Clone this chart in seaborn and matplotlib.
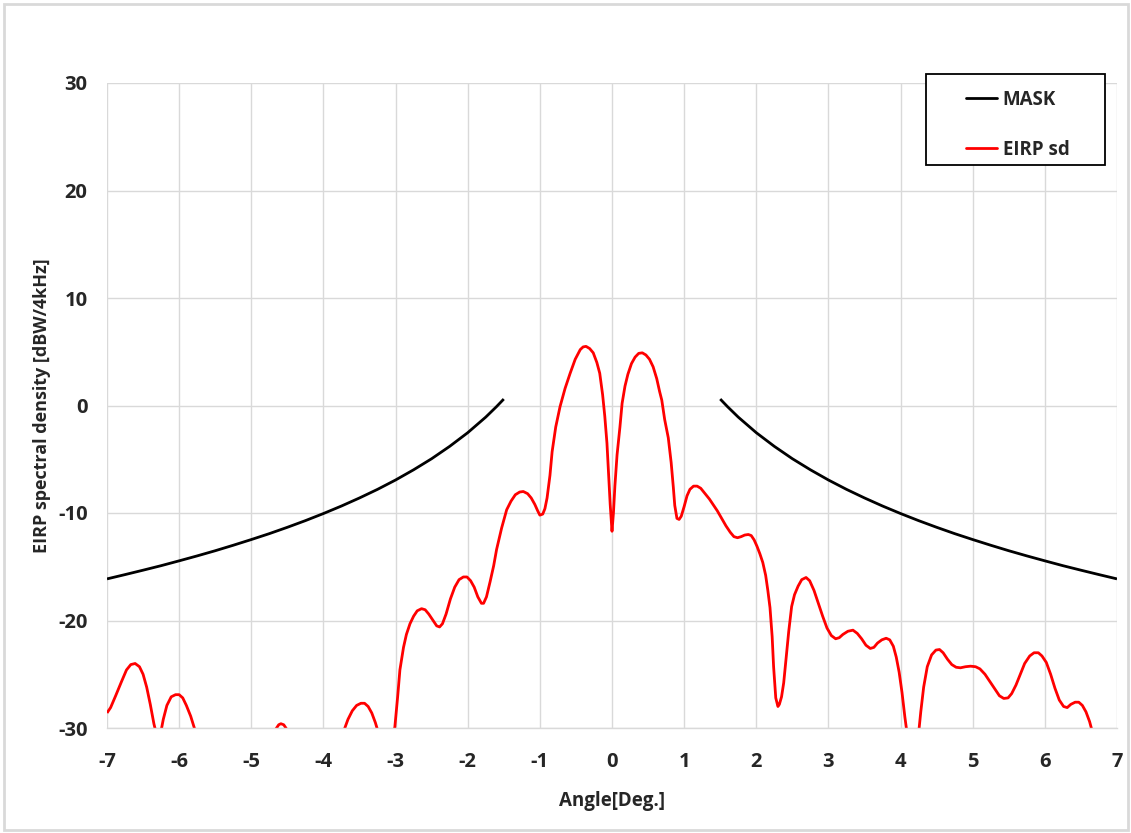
import matplotlib
matplotlib.use("Agg")
import matplotlib.pyplot as plt
import seaborn as sns
import pandas as pd
from matplotlib.lines import Line2D
from matplotlib.patches import Rectangle

# ---- data ----
mask_abs_angle = [1.5, 1.6, 1.75, 2.0, 2.25, 2.5, 2.75, 3.0, 3.25, 3.5, 3.75, 4.0, 4.25,
                  4.5, 4.75, 5.0, 5.25, 5.5, 5.75, 6.0, 6.25, 6.5, 6.75, 7.0]
mask_value = [0.60, -0.10, -1.08, -2.53, -3.80, -4.95, -5.98, -6.93, -7.80, -8.60, -9.35,
              -10.05, -10.71, -11.33, -11.92, -12.47, -13.00, -13.51, -13.99, -14.45,
              -14.90, -15.32, -15.73, -16.13]

eirp_points = [
    (-7.00, -28.6), (-6.95, -28.1), (-6.88, -27.0), (-6.80, -25.7), (-6.73, -24.6),
    (-6.67, -24.1), (-6.61, -24.0), (-6.55, -24.3), (-6.50, -25.0), (-6.45, -26.2),
    (-6.40, -27.8), (-6.35, -29.6), (-6.30, -31.0), (-6.26, -30.6), (-6.22, -29.2),
    (-6.17, -27.9), (-6.11, -27.1), (-6.05, -26.9), (-6.00, -26.9), (-5.95, -27.2),
    (-5.90, -27.9), (-5.84, -28.9), (-5.78, -30.2), (-5.70, -32.0), (-5.30, -35.0),
    (-4.90, -33.0), (-4.70, -30.6), (-4.66, -30.1), (-4.62, -29.7), (-4.59, -29.6),
    (-4.55, -29.7), (-4.51, -30.1), (-4.46, -30.7), (-4.20, -34.0), (-3.90, -32.0),
    (-3.72, -30.3), (-3.66, -29.2), (-3.60, -28.4), (-3.54, -27.9), (-3.48, -27.7),
    (-3.43, -27.7), (-3.38, -28.0), (-3.33, -28.6), (-3.28, -29.5), (-3.24, -30.4),
    (-3.15, -32.5), (-3.08, -32.0), (-3.04, -30.8), (-3.01, -29.9), (-2.97, -27.0),
    (-2.94, -24.6), (-2.89, -22.5), (-2.85, -21.3), (-2.80, -20.3), (-2.75, -19.6),
    (-2.70, -19.1), (-2.64, -18.9), (-2.59, -19.0), (-2.54, -19.4), (-2.48, -20.0),
    (-2.43, -20.5), (-2.39, -20.6), (-2.35, -20.3), (-2.30, -19.4), (-2.24, -18.0),
    (-2.18, -16.9), (-2.12, -16.2), (-2.06, -15.95), (-2.01, -15.95), (-1.96, -16.3),
    (-1.91, -16.9), (-1.86, -17.8), (-1.81, -18.4), (-1.78, -18.4), (-1.74, -17.8),
    (-1.69, -16.4), (-1.64, -14.9), (-1.60, -13.4), (-1.53, -11.4), (-1.46, -9.7),
    (-1.40, -8.9), (-1.34, -8.3), (-1.28, -8.05), (-1.23, -8.0), (-1.17, -8.2),
    (-1.12, -8.6), (-1.07, -9.2), (-1.03, -9.8), (-1.00, -10.2), (-0.96, -10.1),
    (-0.93, -9.6), (-0.90, -8.6), (-0.86, -6.5), (-0.83, -4.3), (-0.78, -2.0),
    (-0.72, -0.1), (-0.65, 1.6), (-0.58, 3.0), (-0.51, 4.3), (-0.44, 5.2),
    (-0.40, 5.45), (-0.36, 5.5), (-0.31, 5.3), (-0.26, 4.9), (-0.21, 4.0),
    (-0.17, 3.0), (-0.13, 1.0), (-0.10, -1.0), (-0.07, -3.5), (-0.05, -6.0),
    (-0.025, -9.2), (0.00, -11.7), (0.02, -10.0), (0.04, -7.5), (0.07, -4.6),
    (0.11, -2.0), (0.14, 0.2), (0.18, 1.8), (0.22, 2.9), (0.27, 3.9),
    (0.32, 4.5), (0.37, 4.85), (0.42, 4.9), (0.47, 4.7), (0.52, 4.3),
    (0.57, 3.6), (0.62, 2.5), (0.66, 1.3), (0.69, 0.5), (0.73, -1.3),
    (0.78, -3.0), (0.82, -5.3), (0.85, -7.6), (0.87, -9.3), (0.90, -10.5),
    (0.93, -10.6), (0.96, -10.3), (1.00, -9.4), (1.04, -8.4), (1.08, -7.8),
    (1.13, -7.5), (1.18, -7.5), (1.23, -7.7), (1.29, -8.2), (1.35, -8.7),
    (1.40, -9.2), (1.46, -9.8), (1.52, -10.5), (1.58, -11.2), (1.64, -11.8),
    (1.69, -12.2), (1.74, -12.3), (1.79, -12.2), (1.84, -12.05), (1.89, -12.0),
    (1.93, -12.1), (1.97, -12.5), (2.01, -13.1), (2.05, -13.8), (2.09, -14.6),
    (2.13, -15.8), (2.16, -17.2), (2.19, -18.8), (2.22, -21.5), (2.24, -24.3),
    (2.27, -27.2), (2.30, -28.0), (2.32, -27.8), (2.35, -27.1), (2.38, -25.8),
    (2.42, -23.0), (2.45, -21.0), (2.49, -18.7), (2.53, -17.6), (2.58, -16.8),
    (2.63, -16.2), (2.69, -16.0), (2.74, -16.3), (2.80, -17.2), (2.86, -18.4),
    (2.92, -19.6), (2.98, -20.7), (3.04, -21.4), (3.10, -21.7), (3.15, -21.6),
    (3.20, -21.3), (3.27, -21.0), (3.34, -20.9), (3.40, -21.2), (3.46, -21.7),
    (3.52, -22.3), (3.58, -22.6), (3.63, -22.5), (3.68, -22.1), (3.74, -21.8),
    (3.80, -21.65), (3.85, -21.8), (3.90, -22.4), (3.94, -23.4), (3.98, -24.8),
    (4.02, -26.7), (4.06, -29.0), (4.09, -30.5), (4.14, -33.0), (4.20, -32.5),
    (4.25, -30.5), (4.28, -28.5), (4.32, -26.2), (4.37, -24.3), (4.43, -23.2),
    (4.49, -22.75), (4.54, -22.7), (4.59, -23.0), (4.65, -23.6), (4.71, -24.1),
    (4.77, -24.35), (4.83, -24.4), (4.90, -24.3), (4.97, -24.25), (5.04, -24.3),
    (5.10, -24.5), (5.17, -25.0), (5.24, -25.7), (5.31, -26.4), (5.37, -27.0),
    (5.43, -27.25), (5.49, -27.2), (5.54, -26.8), (5.60, -26.0), (5.66, -25.0),
    (5.72, -24.0), (5.79, -23.3), (5.85, -23.0), (5.91, -23.0), (5.96, -23.3),
    (6.02, -23.9), (6.08, -25.0), (6.14, -26.3), (6.20, -27.4), (6.26, -28.0),
    (6.31, -28.1), (6.36, -27.8), (6.42, -27.6), (6.47, -27.6), (6.52, -27.9),
    (6.57, -28.5), (6.62, -29.4), (6.66, -30.4), (6.75, -33.0), (7.00, -35.0),
]
eirp_angle = [p[0] for p in eirp_points]
eirp_value = [p[1] for p in eirp_points]

x_ticks = [-7, -6, -5, -4, -3, -2, -1, 0, 1, 2, 3, 4, 5, 6, 7]
y_ticks = [-30, -20, -10, 0, 10, 20, 30]
legend_labels = ["MASK", "EIRP sd"]

# ---- build frames ----
mask_left = pd.DataFrame({"angle": [-a for a in mask_abs_angle], "value": mask_value})
mask_right = pd.DataFrame({"angle": mask_abs_angle, "value": mask_value})
eirp = pd.DataFrame({"angle": eirp_angle, "value": eirp_value})

sns.set_theme(style="white")
FONT = ["Open Sans", "DejaVu Sans"]
plt.rcParams["font.family"] = FONT

W, H = 1131, 833
fig = plt.figure(figsize=(W / 100, H / 100), dpi=100)
ax = fig.add_axes([107 / W, 1 - 728 / H, (1117 - 107) / W, (728 - 83) / H])

line_kw = dict(lw=2, sort=False, estimator=None, solid_joinstyle="round",
               solid_capstyle="butt")
sns.lineplot(data=mask_left, x="angle", y="value", ax=ax, color="black", **line_kw)
sns.lineplot(data=mask_right, x="angle", y="value", ax=ax, color="black", **line_kw)
sns.lineplot(data=eirp, x="angle", y="value", ax=ax, color="#ff0000", **line_kw)

ax.set_xlim(-7, 7)
ax.set_ylim(-30, 30)
ax.set_xticks(x_ticks)
ax.set_yticks(y_ticks)
ax.set_xticklabels([str(t) for t in x_ticks], fontsize=14.5, fontweight="bold")
ax.set_yticklabels([str(t) for t in y_ticks], fontsize=14.5, fontweight="bold")
ax.tick_params(axis="x", length=0, pad=17)
ax.tick_params(axis="y", length=0, pad=14)
ax.grid(True, color="#d9d9d9", lw=1)
ax.set_axisbelow(True)
for s in ["top", "right", "left"]:
    ax.spines[s].set_visible(False)
ax.spines["bottom"].set_color("#d9d9d9")
ax.spines["bottom"].set_linewidth(1)

ax.set_xlabel("Angle[Deg.]", fontsize=13.5, fontweight="bold", labelpad=14)
ax.set_ylabel("EIRP spectral density [dBW/4kHz]", fontsize=13, fontweight="bold",
              labelpad=5)

handles = [Line2D([], [], color="black", lw=2), Line2D([], [], color="#ff0000", lw=2)]
leg = fig.legend(handles, legend_labels, loc="upper left",
                 bbox_to_anchor=(966 / W, 1 - 90 / H),
                 frameon=False,
                 prop={"family": FONT, "weight": "bold", "size": 13.5},
                 handlelength=1.65, handletextpad=0.3, labelspacing=1.6,
                 borderpad=0, borderaxespad=0)

# legend frame (matches the wide box of the reference)
fig.patches.append(Rectangle((926 / W, 1 - 165 / H), (1105 - 926) / W, (165 - 74) / H,
                             transform=fig.transFigure, fill=True, facecolor="white",
                             edgecolor="black", lw=1.3, zorder=2))
leg.set_zorder(3)

# outer chart border
fig.patches.append(Rectangle((4 / W, 3 / H), 1124 / W, 826 / H,
                             transform=fig.transFigure, fill=False,
                             edgecolor="#d9d9d9", lw=2))

fig.savefig("out.png", dpi=100)
